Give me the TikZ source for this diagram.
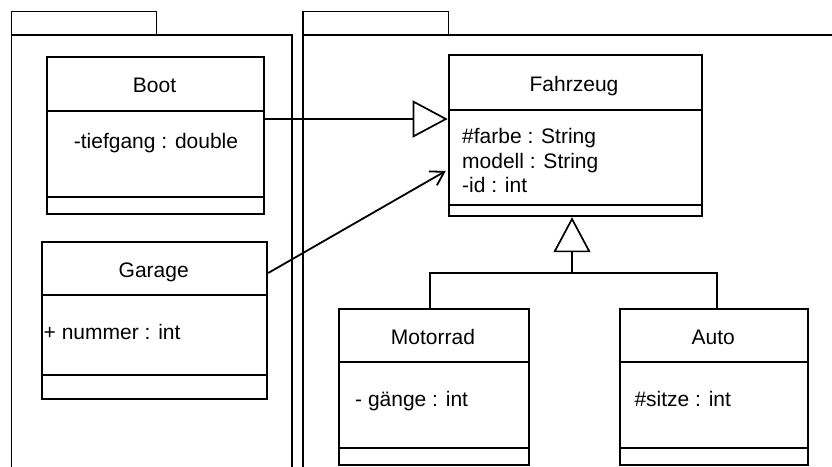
\documentclass[tikz,border=0pt]{standalone}
\usepackage{fontspec}
\setmainfont{Liberation Sans}
\usetikzlibrary{arrows.meta,calc}
\begin{document}
\begin{tikzpicture}[x=1pt,y=-1pt,
  classbox/.style={draw=black, line width=2.2pt, inner sep=0pt, anchor=north west},
  pkg/.style={draw=black, line width=1.6pt, inner sep=0pt, anchor=north west},
  divider/.style={line width=1.8pt},
  lbl/.style={inner sep=0pt, anchor=base, font=\fontsize{21}{25}\selectfont},
  attr/.style={inner sep=0pt, anchor=base west, font=\fontsize{21}{25}\selectfont},
  tree/.style={line width=1.5pt},
  gen/.style={line width=1.7pt, -{Triangle[open, length=35pt, width=37pt, line width=1.7pt]}},
  assoc/.style={line width=1.8pt, -{Straight Barb[length=13pt, width=16pt, line width=1.8pt]}}
]
\fill[white] (0,0) rectangle (832,466);
\clip (0,0) rectangle (832,466);

% packages
\node[pkg, minimum width=145pt, minimum height=23.6pt] (ltab) at (10.7,10.7) {};
\node[pkg, minimum width=280.3pt, minimum height=460pt] (lpkg) at (10.7,34.3) {};
\node[pkg, minimum width=145.3pt, minimum height=23.6pt] (rtab) at (302.3,10.7) {};
\node[pkg, minimum width=560pt, minimum height=460pt] (rpkg) at (302.3,34.3) {};

% classes
\node[classbox, minimum width=217pt, minimum height=157pt] (boot) at (46,56) {};
\draw[divider] ($(boot.north west)+(0,55)$) -- ($(boot.north east)+(0,55)$);
\draw[divider] ($(boot.north west)+(0,141)$) -- ($(boot.north east)+(0,141)$);

\node[classbox, minimum width=225pt, minimum height=157pt] (garage) at (41,241) {};
\draw[divider] ($(garage.north west)+(0,54)$) -- ($(garage.north east)+(0,54)$);
\draw[divider] ($(garage.north west)+(0,134)$) -- ($(garage.north east)+(0,134)$);

\node[classbox, minimum width=253pt, minimum height=161pt] (fahrzeug) at (447.7,54) {};
\draw[divider] ($(fahrzeug.north west)+(0,56)$) -- ($(fahrzeug.north east)+(0,56)$);
\draw[divider] ($(fahrzeug.north west)+(0,151)$) -- ($(fahrzeug.north east)+(0,151)$);

\node[classbox, minimum width=190pt, minimum height=156pt] (motorrad) at (338,308) {};
\draw[divider] ($(motorrad.north west)+(0,54)$) -- ($(motorrad.north east)+(0,54)$);
\draw[divider] ($(motorrad.north west)+(0,140)$) -- ($(motorrad.north east)+(0,140)$);

\node[classbox, minimum width=188pt, minimum height=156pt] (auto) at (619,308) {};
\draw[divider] ($(auto.north west)+(0,54)$) -- ($(auto.north east)+(0,54)$);
\draw[divider] ($(auto.north west)+(0,140)$) -- ($(auto.north east)+(0,140)$);

% texts
\node[lbl] (bootname) at (154.5,92) {Boot};
\node[lbl] (bootattr) at (156,148) {-tiefgang : double};
\node[lbl] (garagename) at (153.7,277.7) {Garage};
\node[attr] (garageattr) at (43.5,339) {+ nummer : int};
\node[lbl] (fzname) at (574,91.7) {Fahrzeug};
\node[attr] (fza1) at (462,143.3) {\#farbe : String};
\node[attr] (fza2) at (462,168.3) {modell : String};
\node[attr] (fza3) at (462,192.7) {-id : int};
\node[lbl] (mname) at (433,344.3) {Motorrad};
\node[attr] (mattr) at (355,406.5) {- gänge : int};
\node[lbl] (aname) at (713.3,344) {Auto};
\node[attr] (aattr) at (634.3,406) {\#sitze : int};

% connectors
\coordinate (bootout) at ($(boot.north east)+(0,63)$);
\draw[gen] (bootout) -- (bootout -| fahrzeug.west);

\coordinate (garout) at ($(garage.north east)+(0,32)$);
\coordinate (fzin) at ($(fahrzeug.north west)+(-2,117)$);
\draw[assoc] (garout) -- (fzin);

\coordinate (junc) at (572,273);
\coordinate (mstem) at ($(motorrad.north)+(-4,0)$);
\coordinate (astem) at ($(auto.north)+(3,0)$);
\draw[tree] (mstem) |- (junc) -| (astem);
\draw[gen] (junc) -- (junc |- fahrzeug.south);
\end{tikzpicture}
\end{document}
